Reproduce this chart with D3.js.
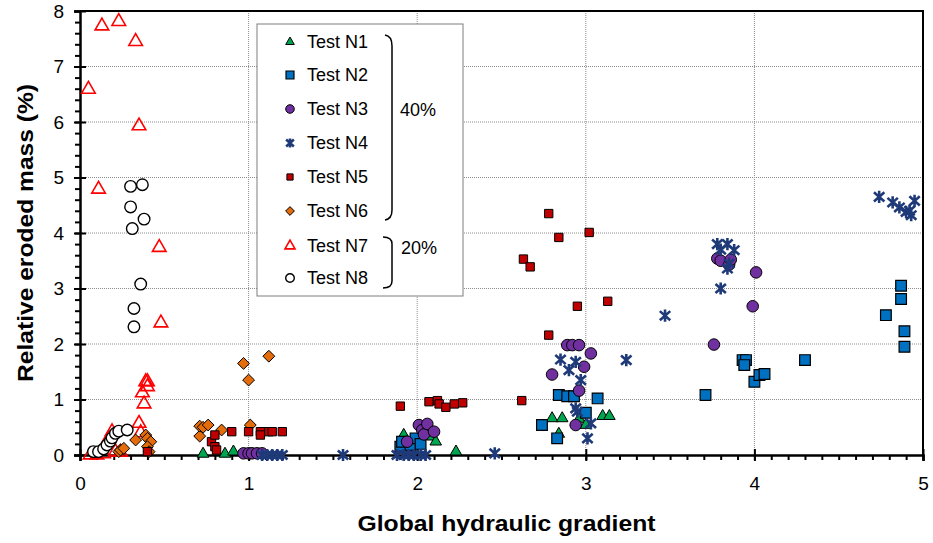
<!DOCTYPE html>
<html>
<head>
<meta charset="utf-8">
<script src="https://cdn.jsdelivr.net/npm/d3@7"></script>
<style>
  body { margin: 0; background: #fff; }
  text { font-family: "Liberation Sans", Arial, sans-serif; }
</style>
</head>
<body>
<div id="chart"></div>
<script>
// data: [gradient, eroded mass %]
var testN1 = [[0.73,0.02],[0.86,0.02],[0.91,0.06],[1.92,0.36],[2.09,0.33],[2.11,0.24],[2.23,0.06],
  [2.80,0.66],[2.86,0.66],[2.84,0.38],[2.96,0.65],[3.00,0.54],[3.10,0.70],[3.14,0.70]];
var testN2 = [[1.90,0.15],[1.91,0.24],[1.96,0.18],[1.99,0.30],[2.02,0.20],[2.74,0.54],[2.83,0.30],
  [2.84,1.08],[2.89,1.06],[2.93,1.06],[3.00,0.76],[3.07,1.02],[3.71,1.08],[3.93,1.71],[3.95,1.71],
  [3.94,1.62],[4.00,1.32],[4.03,1.44],[4.06,1.46],[4.30,1.71],[4.78,2.52],[4.87,3.05],[4.87,2.81],
  [4.89,2.23],[4.89,1.95]];
var testN3 = [[0.97,0.03],[1.00,0.03],[1.02,0.03],[1.05,0.03],[1.08,0.03],[1.94,0.24],[2.01,0.54],
  [2.03,0.45],[2.04,0.37],[2.06,0.56],[2.10,0.42],[2.80,1.45],[2.89,1.98],[2.92,1.98],[2.96,1.98],
  [3.03,1.83],[2.99,1.59],[2.96,1.16],[2.94,0.54],[3.76,1.99],[3.78,3.54],[3.80,3.50],[3.85,3.43],
  [3.86,3.52],[3.99,2.68],[4.01,3.29]];
var testN4 = [[1.08,0.0],[1.11,0.0],[1.14,0.0],[1.17,0.0],[1.20,0.0],[1.56,0.0],[1.88,0.0],[1.92,0.0],
  [1.95,0.0],[1.98,0.0],[2.02,0.0],[2.05,0.0],[2.46,0.03],[2.85,1.72],[2.90,1.53],[2.94,1.68],
  [2.97,1.35],[2.94,0.84],[2.95,0.78],[3.03,0.57],[3.01,0.30],[3.24,1.71],[3.47,2.51],[3.78,3.80],
  [3.80,3.00],[3.80,3.70],[3.84,3.80],[3.84,3.36],[3.85,3.45],[3.88,3.69],[4.74,4.65],[4.82,4.55],
  [4.86,4.46],[4.90,4.38],[4.92,4.40],[4.93,4.32],[4.95,4.58]];
var testN5 = [[0.40,0.06],[0.78,0.24],[0.80,0.36],[0.80,0.15],[0.81,0.09],[0.90,0.42],[1.00,0.42],
  [1.07,0.42],[1.07,0.36],[1.12,0.42],[1.14,0.42],[1.20,0.42],[1.90,0.88],[2.07,0.96],[2.07,0.42],
  [2.12,0.98],[2.13,0.92],[2.17,0.86],[2.22,0.92],[2.27,0.94],[2.62,0.98],[2.63,3.53],[2.67,3.39],
  [2.78,4.35],[2.78,2.16],[2.84,3.92],[2.95,2.68],[3.02,4.01],[3.13,2.77]];
var testN6 = [[0.23,0.06],[0.24,0.09],[0.26,0.12],[0.33,0.27],[0.39,0.36],[0.40,0.30],[0.42,0.24],
  [0.40,0.15],[0.41,0.06],[0.71,0.34],[0.71,0.52],[0.73,0.50],[0.76,0.54],[0.84,0.45],[0.97,1.65],
  [1.00,1.35],[1.01,0.54],[1.12,1.78]];
var testN7 = [[0.05,6.59],[0.11,4.79],[0.13,7.73],[0.23,7.81],[0.33,7.45],[0.35,5.93],[0.47,3.74],
  [0.48,2.38],[0.39,1.32],[0.40,1.32],[0.40,1.23],[0.37,1.12],[0.38,0.92],[0.35,0.57],[0.36,0.40],
  [0.06,0.00],[0.10,0.00],[0.14,0.02],[0.17,0.30],[0.19,0.42],[0.21,0.06],[0.24,0.05]];
var testN8 = [[0.08,0.06],[0.11,0.06],[0.14,0.11],[0.16,0.18],[0.18,0.25],[0.19,0.31],[0.21,0.39],
  [0.23,0.43],[0.28,0.45],[0.30,4.84],[0.37,4.87],[0.30,4.47],[0.38,4.25],[0.31,4.08],[0.36,3.08],
  [0.32,2.64],[0.32,2.31]];

var seriesNames = ["Test N1", "Test N2", "Test N3", "Test N4", "Test N5", "Test N6", "Test N7", "Test N8"];
var xTicks = [0, 1, 2, 3, 4, 5];
var yTicks = [0, 1, 2, 3, 4, 5, 6, 7, 8];

var svgWidth = 933;
var svgHeight = 543;
var margin = { top: 11, right: 10, bottom: 88, left: 80 };
var width = 843;
var height = svgHeight - margin.top - margin.bottom;

var svg = d3.select("#chart").append("svg")
    .attr("width", svgWidth)
    .attr("height", svgHeight);

var chartGroup = svg.append("g")
    .attr("transform", `translate(${margin.left}, ${margin.top})`);

var xScale = d3.scaleLinear().domain([0, 5]).range([0, width]);
var yScale = d3.scaleLinear().domain([0, 8]).range([height, 0]);

// excel-like markers
var starX = {
    draw: function(ctx, size) {
        var r = Math.sqrt(size) / 2;
        ctx.moveTo(0, -r); ctx.lineTo(0, r);
        ctx.moveTo(-r * 0.85, -r * 0.75); ctx.lineTo(r * 0.85, r * 0.75);
        ctx.moveTo(r * 0.85, -r * 0.75); ctx.lineTo(-r * 0.85, r * 0.75);
    }
};
var squareDiamond = {
    draw: function(ctx, size) {
        var r = Math.sqrt(size) / 2;
        ctx.moveTo(0, -r); ctx.lineTo(r, 0); ctx.lineTo(0, r); ctx.lineTo(-r, 0); ctx.closePath();
    }
};

// grid
chartGroup.append("g").selectAll("line")
    .data(yTicks.filter(d => d > 0 && d < 8))
    .enter().append("line")
    .attr("x1", 0).attr("x2", width)
    .attr("y1", d => yScale(d)).attr("y2", d => yScale(d))
    .attr("stroke", "#8c8c8c").attr("stroke-width", 1).attr("stroke-dasharray", "1,1");
chartGroup.append("g").selectAll("line")
    .data(xTicks.filter(d => d > 0 && d < 5))
    .enter().append("line")
    .attr("y1", 0).attr("y2", height)
    .attr("x1", d => xScale(d)).attr("x2", d => xScale(d))
    .attr("stroke", "#8c8c8c").attr("stroke-width", 1).attr("stroke-dasharray", "1,1");

// frame
chartGroup.append("path")
    .attr("d", `M0,0H${width}V${height}`)
    .attr("fill", "none").attr("stroke", "#000").attr("stroke-width", 2);

// axes
var bottomAxis = d3.axisBottom(xScale).tickValues(xTicks).tickFormat(d3.format("d")).tickSize(6).tickPadding(16);
var leftAxis = d3.axisLeft(yScale).tickValues(yTicks).tickFormat(d3.format("d")).tickSize(6).tickPadding(10);
var xMinor = d3.axisBottom(xScale).tickValues(d3.range(0, 50.5).map(d => d / 10)).tickFormat("").tickSize(5);
var yMinor = d3.axisLeft(yScale).tickValues(d3.range(0, 40.5).map(d => d / 5)).tickFormat("").tickSize(5);

chartGroup.append("g").attr("transform", `translate(0, ${height})`).call(xMinor)
    .call(g => g.select(".domain").remove())
    .selectAll("line").attr("stroke-width", 2);
chartGroup.append("g").call(yMinor)
    .call(g => g.select(".domain").remove())
    .selectAll("line").attr("stroke-width", 2);

var gx = chartGroup.append("g").attr("transform", `translate(0, ${height})`).call(bottomAxis);
gx.select(".domain").attr("stroke-width", 2.5);
gx.selectAll(".tick line").attr("y1", -6).attr("stroke-width", 2);
gx.selectAll("text").style("font-size", "19px").attr("fill", "#000");

var gy = chartGroup.append("g").call(leftAxis);
gy.select(".domain").attr("stroke-width", 2.5);
gy.selectAll(".tick line").attr("x1", 6).attr("stroke-width", 2);
gy.selectAll("text").style("font-size", "19px").attr("fill", "#000");

// axis titles
chartGroup.append("text")
    .attr("transform", "rotate(-90)")
    .attr("x", -height / 2).attr("y", -47)
    .attr("text-anchor", "middle")
    .attr("textLength", 298).attr("lengthAdjust", "spacingAndGlyphs")
    .style("font-size", "22px").style("font-weight", "bold")
    .text("Relative eroded mass (%)");
chartGroup.append("text")
    .attr("x", width / 2 + 5).attr("y", height + 76)
    .attr("text-anchor", "middle")
    .attr("textLength", 298).attr("lengthAdjust", "spacingAndGlyphs")
    .style("font-size", "22px").style("font-weight", "bold")
    .text("Global hydraulic gradient");

// series styles
var styles = [
  { data: testN1, type: d3.symbolTriangle, size: 58, fill: "#00a550", stroke: "#000", sw: 1 },
  { data: testN2, type: d3.symbolSquare, size: 115, fill: "#0070c0", stroke: "#000", sw: 1.2 },
  { data: testN3, type: d3.symbolCircle, size: 105, fill: "#7030a0", stroke: "#000", sw: 1 },
  { data: testN4, type: starX, size: 150, fill: "none", stroke: "#1f3a78", sw: 2.6 },
  { data: testN5, type: d3.symbolSquare, size: 70, fill: "#c00000", stroke: "#000", sw: 1 },
  { data: testN6, type: squareDiamond, size: 140, fill: "#e46c0a", stroke: "#000", sw: 1 },
  { data: testN7, type: d3.symbolTriangle, size: 80, fill: "none", stroke: "#ff0000", sw: 1.6 },
  { data: testN8, type: d3.symbolCircle, size: 105, fill: "#fff", stroke: "#000", sw: 1.4 }
];

[6, 7, 5, 4, 0, 1, 2, 3].forEach(function(i) {
    var s = styles[i];
    chartGroup.append("g").selectAll("path")
        .data(s.data)
        .enter().append("path")
        .attr("transform", d => `translate(${xScale(d[0])}, ${yScale(d[1])})`)
        .attr("d", d3.symbol().type(s.type).size(s.size))
        .attr("fill", s.fill)
        .attr("stroke", s.stroke)
        .attr("stroke-width", s.sw);
});

// legend
var legend = svg.append("g").attr("transform", "translate(257, 24)");
legend.append("rect")
    .attr("width", 206).attr("height", 272)
    .attr("fill", "#fff").attr("stroke", "#7f7f7f").attr("stroke-width", 1);

var rowY = [18, 51, 85, 119, 153, 187, 222, 254];
seriesNames.forEach(function(name, i) {
    var s = styles[i];
    legend.append("path")
        .attr("transform", `translate(33, ${rowY[i]})`)
        .attr("d", d3.symbol().type(s.type).size(s.size * 0.55))
        .attr("fill", s.fill).attr("stroke", s.stroke).attr("stroke-width", s.sw);
    legend.append("text")
        .attr("x", 50).attr("y", rowY[i] + 6)
        .style("font-size", "18px")
        .text(name);
});

// brackets
legend.append("path")
    .attr("d", "M128,11 Q135,12 135,22 V186 Q135,195 128,196")
    .attr("fill", "none").attr("stroke", "#000").attr("stroke-width", 1.5);
legend.append("path")
    .attr("d", "M126,213 Q135,213 135,220 V257 Q135,264 126,264")
    .attr("fill", "none").attr("stroke", "#000").attr("stroke-width", 1.5);
legend.append("text").attr("x", 143).attr("y", 92).style("font-size", "18px").text("40%");
legend.append("text").attr("x", 144).attr("y", 230).style("font-size", "18px").text("20%");
</script>
</body>
</html>
